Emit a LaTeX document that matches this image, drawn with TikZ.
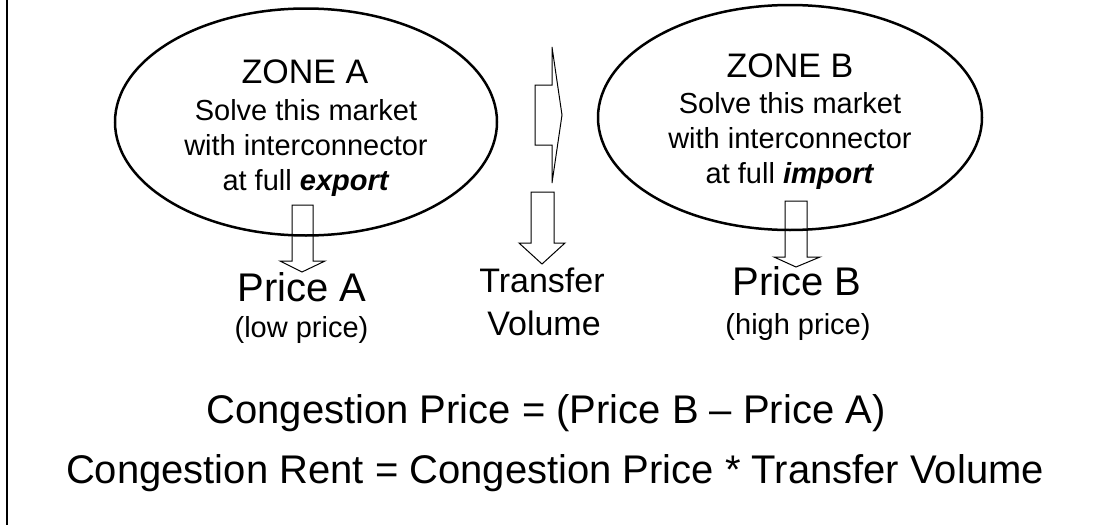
\documentclass[tikz,border=0pt]{standalone}
\usepackage{fontspec}
\setmainfont{Liberation Sans}
\usetikzlibrary{shapes.geometric}

\begin{document}
\begin{tikzpicture}[x=1pt,y=-1pt,
  zone/.style={draw=black,line width=2.5pt,ellipse,inner sep=0pt},
  txt/.style={inner sep=0pt,anchor=base},
  zonetxt/.style={txt,font=\fontsize{34}{40}\selectfont},
  subtxt/.style={txt,font=\fontsize{29}{34}\selectfont},
  pricetxt/.style={txt,font=\fontsize{40}{48}\selectfont},
  blk/.style={draw=black,line width=1pt}]
\useasboundingbox (0,0) rectangle (1093,525);
\draw [black,line width=2pt] (7,0) -- (7,525);
% the two zones
\node [zone,minimum width=382pt,minimum height=227pt] (zoneA) at (306,122) {};
\node [zone,minimum width=384pt,minimum height=225pt] (zoneB) at (790,117.5) {};
\node [zonetxt] (nameA) at (305,83) {ZONE A};
\node [subtxt] (solveA) at (306,120) {Solve this market};
\node [subtxt] (withA) at (306,155) {with interconnector};
\node [subtxt] (fullA) at (306,190) {at full \textbf{\textit{export}}};
\node [zonetxt] (nameB) at (790,77) {ZONE B};
\node [subtxt] (solveB) at (790,113) {Solve this market};
\node [subtxt] (withB) at (790,148) {with interconnector};
\node [subtxt] (fullB) at (790,183) {at full \textbf{\textit{import}}};
% block arrows
\draw [blk] (535,85) -- (552,85) -- (552,47) -- (562,115) -- (552,183) -- (552,145) -- (535,145) -- cycle;
\draw [blk] (292,205) -- (313,205) -- (313,261) -- (325,261) -- (302,272) -- (280,261) -- (292,261) -- cycle;
\draw [blk] (531,192) -- (554,192) -- (554,243) -- (565,243) -- (542,264) -- (519,243) -- (531,243) -- cycle;
\draw [blk] (785,201) -- (807,201) -- (807,257) -- (820,257) -- (796,267) -- (774,257) -- (785,257) -- cycle;
% results
\node [pricetxt] (priceA) at (302,301) {Price A};
\node [subtxt] (lowA) at (301.5,337) {(low price)};
\node [txt,font=\fontsize{34}{40}\selectfont] (transfer) at (542,292) {Transfer};
\node [txt,font=\fontsize{34}{40}\selectfont] (volume) at (544,335) {Volume};
\node [pricetxt] (priceB) at (797,295) {Price B};
\node [subtxt] (highB) at (798,334) {(high price)};
\node [pricetxt] (eqprice) at (546,423) {Congestion Price = (Price B – Price A)};
\node [pricetxt] (eqrent) at (555,483) {Congestion Rent = Congestion Price * Transfer Volume};
\end{tikzpicture}
\end{document}
